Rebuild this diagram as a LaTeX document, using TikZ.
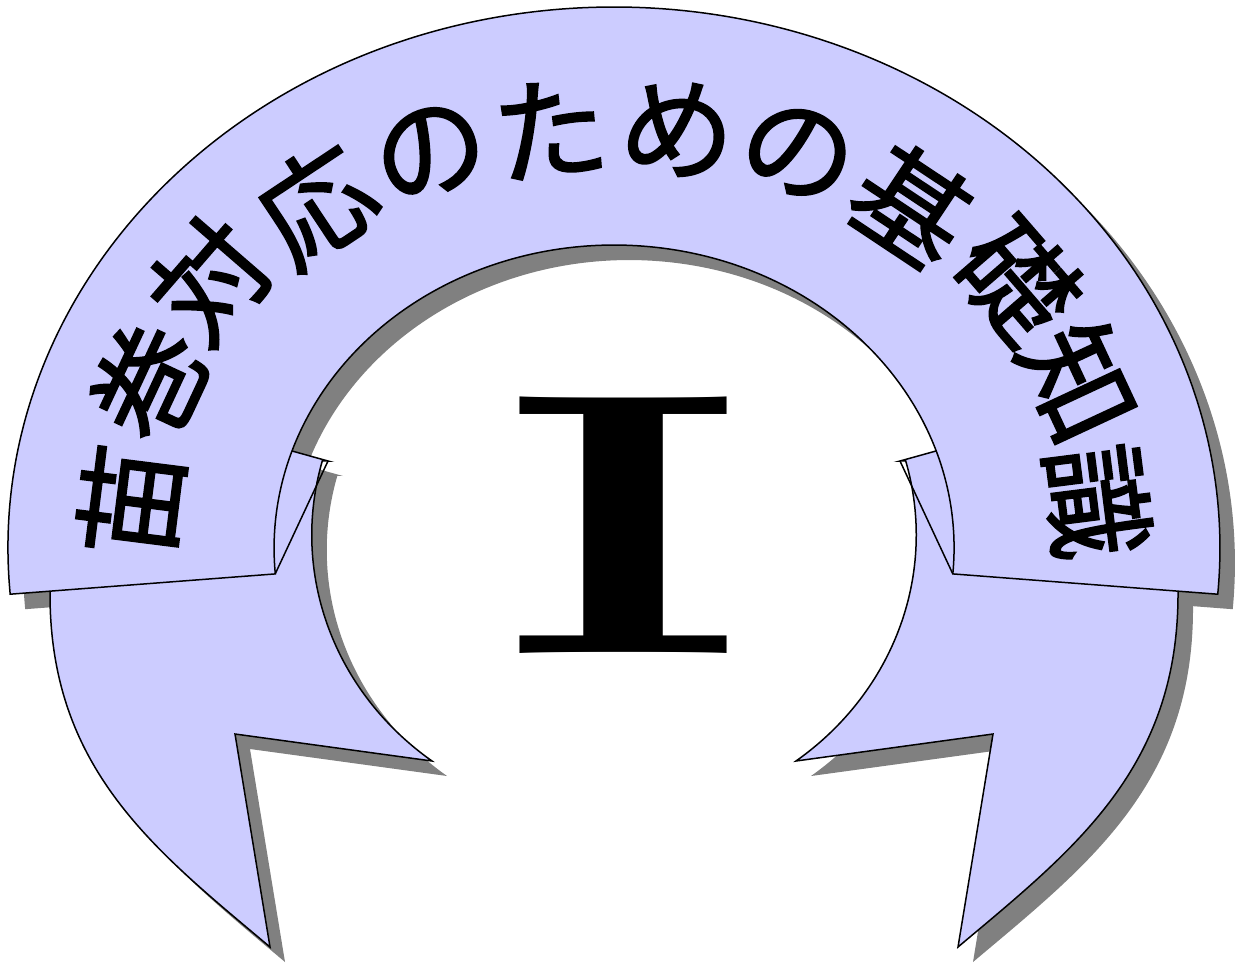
\documentclass[tikz,border=0pt]{standalone}
\usepackage{fontspec}
\usepackage{graphicx}
\newfontfamily\jpfont[FakeBold=1.6]{Noto Sans CJK JP}
\definecolor{lav}{HTML}{CCCCFF}
\definecolor{shd}{HTML}{808080}
\tikzset{
  shapefill/.style={fill=lav, draw=black, line width=1.5pt, line join=miter},
  shadowfill/.style={fill=shd},
  jpchar/.style={font=\jpfont\fontsize{114}{114}\selectfont, inner sep=0pt, anchor=center},
  pics/lowershape/.style={code={
    \fill[shadowfill, shift={(#1,-15)}] (50,-575) -- (50,-594) .. controls (50,-770) and (156,-851) .. (270,-947) -- (235,-734) -- (432,-761) arc[start angle=233, end angle=164.8, x radius=302, y radius=283] -- (328,-461) -- (250,-439.3) -- cycle;
    \draw[shapefill] (50,-575) -- (50,-594) .. controls (50,-770) and (156,-851) .. (270,-947) -- (235,-734) -- (432,-761) arc[start angle=233, end angle=164.8, x radius=302, y radius=283] -- (328,-461) -- (250,-439.3) -- cycle;
    \draw[line width=1.5pt] (328,-461) -- (275.2,-573.9);
  }}
}
\begin{document}
\begin{tikzpicture}[x=1pt,y=1pt]
\useasboundingbox (0,0) rectangle (1241,-969);
% band shadow
\begin{scope}[shift={(15,-15)}]
\fill[shadowfill] (10.2,-594.2) arc[start angle=184.9, end angle=-4.9, x radius=606, y radius=541] -- (952.8,-573.9) arc[start angle=-4.9, end angle=184.9, x radius=340, y radius=303] -- cycle;
\end{scope}
% lower curved arrow pieces
\pic at (0,0) {lowershape=15};
\pic[xscale=-1] at (1228,0) {lowershape=-15};
% band
\draw[shapefill] (10.2,-594.2) arc[start angle=184.9, end angle=-4.9, x radius=606, y radius=541] -- (952.8,-573.9) arc[start angle=-4.9, end angle=184.9, x radius=340, y radius=303] -- cycle;
% text along the arch
\node[jpchar, rotate=82.8] (c1) at (131,-501) {苗};
\node[jpchar, rotate=65.0] (c2) at (149,-382) {巻};
\node[jpchar, rotate=49.1] (c3) at (210,-280) {対};
\node[jpchar, rotate=33.6] (c4) at (316,-205) {応};
\node[jpchar, rotate=19.6] (c5) at (430,-152) {の};
\node[jpchar, rotate=6.7] (c6) at (550,-129) {た};
\node[jpchar, rotate=-6.7] (c7) at (678,-129) {め};
\node[jpchar, rotate=-19.6] (c8) at (798,-152) {の};
\node[jpchar, rotate=-33.6] (c9) at (912,-205) {基};
\node[jpchar, rotate=-49.1] (c10) at (1018,-280) {礎};
\node[jpchar, rotate=-65.0] (c11) at (1079,-382) {知};
\node[jpchar, rotate=-82.8] (c12) at (1097,-501) {識};
% roman numeral
\node[inner sep=0pt] (roman) at (624,-525) {\resizebox{244pt}{256pt}{\bfseries I}};
\end{tikzpicture}
\end{document}
